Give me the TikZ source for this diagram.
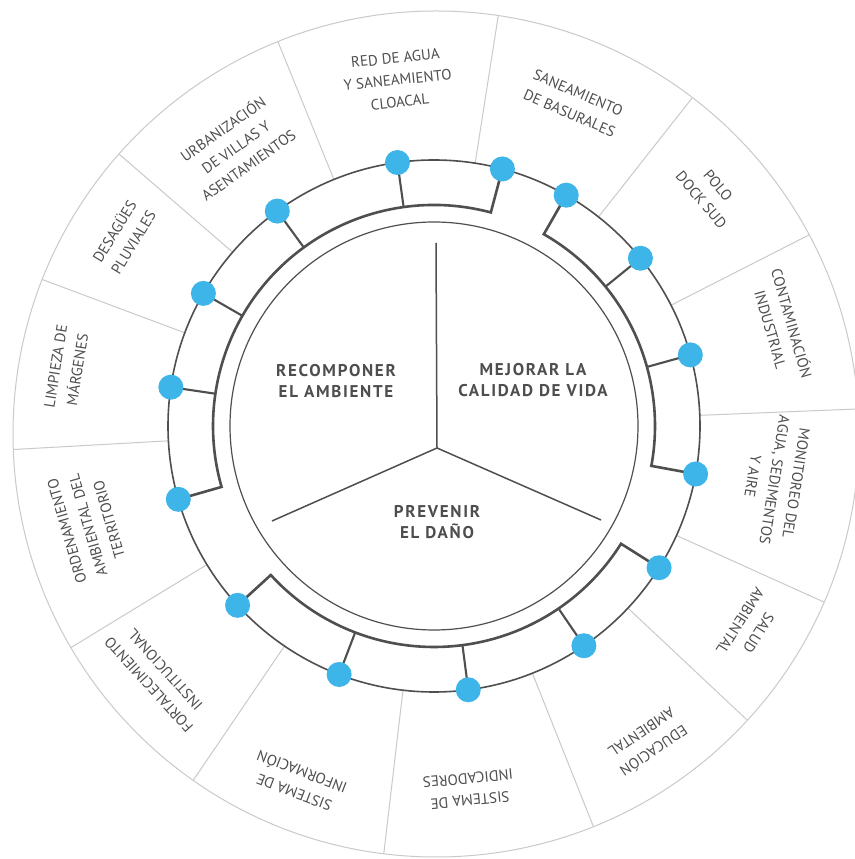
\documentclass[tikz,border=0pt]{standalone}
\usepackage{fontspec}
\setmainfont{PT Sans}
\newfontfamily\hubfont[LetterSpace=10]{PT Sans}
\usetikzlibrary{calc}
\definecolor{txt}{HTML}{4E4E4E}
\definecolor{ln}{HTML}{4F4F4F}
\definecolor{sepc}{HTML}{CACACA}
\definecolor{dotc}{HTML}{3DB5E8}
\tikzset{
  sep/.style={draw=sepc, line width=1pt},
  ring/.style={draw=ln, line width=1.6pt},
  innerc/.style={draw=ln, line width=1.2pt},
  bar/.style={draw=ln, line width=2.6pt, line join=miter},
  spoke/.style={draw=ln, line width=2.1pt},
  yline/.style={draw=ln, line width=1.5pt},
  dot/.style={circle, fill=dotc, minimum size=25pt, inner sep=0pt},
  lab/.style={font=\fontsize{15}{22}\selectfont, text=txt, align=center, inner sep=0pt},
  hub/.style={font=\hubfont\bfseries\fontsize{17}{21}\selectfont, text=txt, align=center, inner sep=0pt}
}
\begin{document}
\begin{tikzpicture}[x=1pt,y=1pt]
\useasboundingbox (0,0) rectangle (854,859);
\fill[white] (0,0) rectangle (854,859);
\coordinate (C) at (434,433);
\coordinate (O) at (436,425);
% outer ring separators
\begin{scope}
\clip (O) circle (423);
\foreach \a in {183.2,159.5,139.2,112.1,81.1,51.8,27.0,2.3,-24.3,-43.2,-68.3,-96.7,-124.2,-148.6}
  \draw[sep] ($(C)+(\a:266)$) -- ($(C)+(\a:460)$);
\end{scope}
\draw[sep] (O) circle (423);
% circles
\draw[ring] (C) circle (266);
\draw[innerc] (C) circle (204);
% dot and arc coordinates
\foreach \n/\a in {1/97.9,2/75.1,3/60.2,4/39.1,5/15.5,6/-10.4,7/-32.2,8/-55.7,9/-82.6,10/-110.9,11/-137.6,12/196,13/171.6,14/150.1,15/126.1}{
  \coordinate (p\n) at ($(C)+(\a:266)$);
  \coordinate (q\n) at ($(C)+(\a:221)$);
}
% group brackets
\draw[bar] (p2) -- (q2) arc[start angle=75.1, end angle=196, radius=221] -- (p12);
\draw[bar] (p3) -- (q3) arc[start angle=60.2, end angle=-10.4, radius=221] -- (p6);
\draw[bar] (p7) -- (q7) arc[start angle=-32.2, end angle=-137.6, radius=221] -- (p11);
\foreach \n in {1,13,14,15,4,5,8,9,10}
  \draw[spoke] (p\n) -- (q\n);
% dots
\foreach \n in {1,...,15}
  \node[dot] (d\n) at (p\n) {};
% Y lines
\coordinate (Y) at (437,411);
\coordinate (Yt) at (436,616);
\coordinate (Yl) at (272,338);
\coordinate (Yr) at (601,339);
\draw[yline] (Yt) -- (Y) -- (Yl);
\draw[yline] (Y) -- (Yr);
% hub labels
\node[hub] (h1) at (336,478) {RECOMPONER\\EL AMBIENTE};
\node[hub] (h2) at (533,479) {MEJORAR LA\\CALIDAD DE VIDA};
\node[hub] (h3) at (437,337) {PREVENIR\\EL DAÑO};
% outer labels
\node[lab, rotate=6] (l1) at ($(C)+(96:348)$) {RED DE AGUA\\Y SANEAMIENTO\\CLOACAL};
\node[lab, rotate=-23.4] (l2) at ($(C)+(66.6:352)$) {SANEAMIENTO\\DE BASURALES};
\node[lab, rotate=-49.8] (l3) at ($(C)+(40.2:361)$) {POLO\\DOCK SUD};
\node[lab, rotate=-74] (l4) at ($(C)+(16:362)$) {CONTAMINACIÓN\\INDUSTRIAL};
\node[lab, rotate=-99] (l5) at ($(C)+(-9:345)$) {MONITOREO DEL\\AGUA, SEDIMENTOS\\Y AIRE};
\node[lab, rotate=-122.5] (l6) at ($(C)+(-32.5:374)$) {SALUD\\AMBIENTAL};
\node[lab, rotate=-145.9] (l7) at ($(C)+(-55.9:382)$) {EDUCACIÓN\\AMBIENTAL};
\node[lab, rotate=-174.5] (l8) at ($(C)+(-84.5:365)$) {SISTEMA DE\\INDICADORES};
\node[lab, rotate=-200.9] (l9) at ($(C)+(-110.9:381)$) {SISTEMA DE\\INFORMACIÓN};
\node[lab, rotate=-227.8] (l10) at ($(C)+(-137.8:374)$) {FORTALECIMIENTO\\INSTITUCIONAL};
\node[lab, rotate=106] (l11) at ($(C)+(196:360)$) {ORDENAMIENTO\\AMBIENTAL DEL\\TERRITORIO};
\node[lab, rotate=81] (l12) at ($(C)+(171:372)$) {LIMPIEZA DE\\MÁRGENES};
\node[lab, rotate=58.6] (l13) at ($(C)+(148.6:364)$) {DESAGÜES\\PLUVIALES};
\node[lab, rotate=35.4] (l14) at ($(C)+(125.4:343)$) {URBANIZACIÓN\\DE VILLAS Y\\ASENTAMIENTOS};
\end{tikzpicture}
\end{document}
